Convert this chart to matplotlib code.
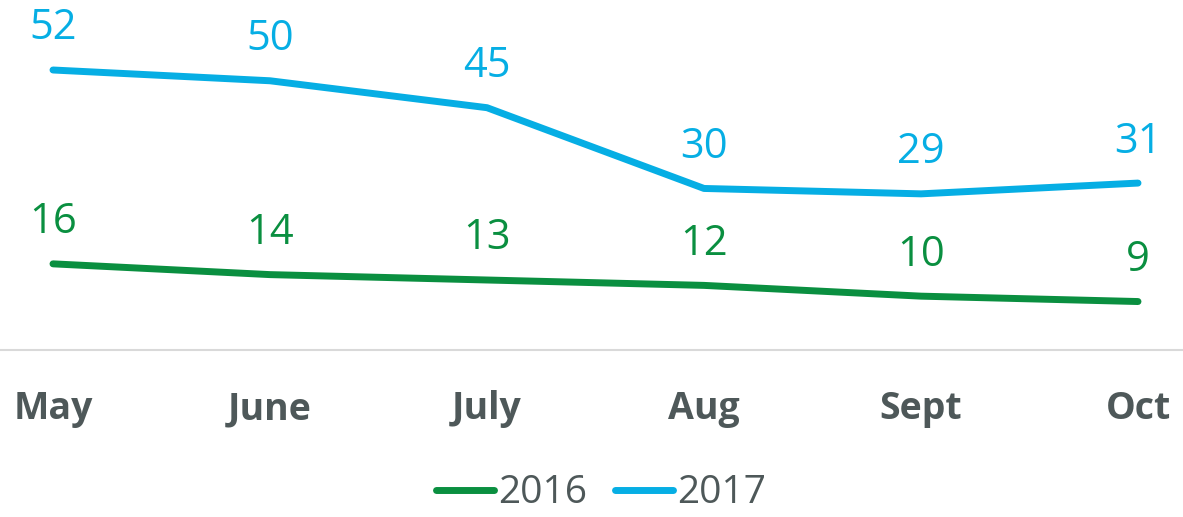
import matplotlib
matplotlib.use('Agg')
import matplotlib.pyplot as plt

months = ['May', 'June', 'July', 'Aug', 'Sept', 'Oct']
y2016 = [16, 14, 13, 12, 10, 9]
y2017 = [52, 50, 45, 30, 29, 31]

green = '#0A8F40'
blue = '#06AEE4'
grey = '#4E5859'

plt.rcParams['font.family'] = ['Open Sans', 'DejaVu Sans']

fig = plt.figure(figsize=(11.83, 5.17), dpi=100)
ax = fig.add_axes([0, 167 / 517, 1, 350 / 517])

x = list(range(len(months)))
ax.plot(x, y2016, color=green, lw=5, solid_capstyle='round', label='2016')
ax.plot(x, y2017, color=blue, lw=5, solid_capstyle='round', label='2017')

# data labels above each point
for xi, v in zip(x, y2016):
    ax.annotate(str(v), (xi, v), xytext=(0, 22), textcoords='offset points',
                ha='center', va='baseline', fontsize=30, color=green)
for xi, v in zip(x, y2017):
    ax.annotate(str(v), (xi, v), xytext=(0, 22), textcoords='offset points',
                ha='center', va='baseline', fontsize=30, color=blue)

ax.set_xlim(-53 / 217, 5 + 45 / 217)
ax.set_ylim(0, 65)
ax.set_xticks(x)
ax.set_xticklabels(months, fontsize=27, fontweight='bold', color=grey)
ax.tick_params(axis='x', length=0, pad=29)
ax.set_yticks([])
for s in ['top', 'right', 'left']:
    ax.spines[s].set_visible(False)
ax.spines['bottom'].set_color('#D9D9D9')
ax.spines['bottom'].set_linewidth(1.5)

leg = fig.legend(loc='center', bbox_to_anchor=(0.508, 0.046), ncol=2, frameon=False,
                 fontsize=28, handlelength=1.5, handletextpad=0.1, columnspacing=0.7,
                 labelcolor=grey)

fig.savefig('out.png', dpi=100)
